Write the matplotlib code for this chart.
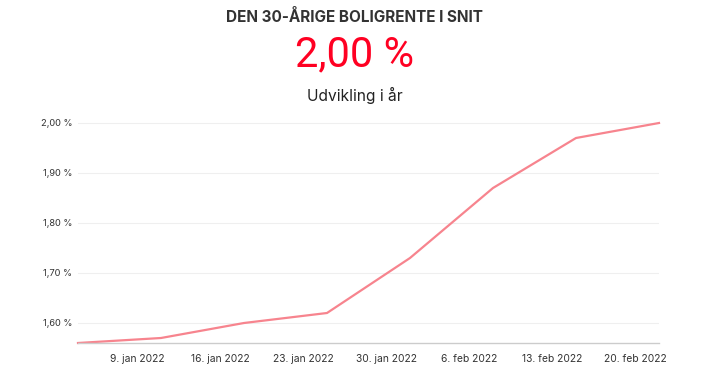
import datetime as dt
import matplotlib
matplotlib.use("Agg")
import matplotlib.pyplot as plt
from matplotlib.ticker import FuncFormatter

plt.rcParams['font.family'] = ['Inter', 'DejaVu Sans']

# data (weekly)
dates = [dt.date(2022, 1, 4), dt.date(2022, 1, 11), dt.date(2022, 1, 18), dt.date(2022, 1, 25),
         dt.date(2022, 2, 1), dt.date(2022, 2, 8), dt.date(2022, 2, 15), dt.date(2022, 2, 22)]
rente = [1.56, 1.57, 1.60, 1.62, 1.73, 1.87, 1.97, 2.00]

tick_dates = [dt.date(2022, 1, 9), dt.date(2022, 1, 16), dt.date(2022, 1, 23), dt.date(2022, 1, 30),
              dt.date(2022, 2, 6), dt.date(2022, 2, 13), dt.date(2022, 2, 20)]
tick_labels = ["9. jan 2022", "16. jan 2022", "23. jan 2022", "30. jan 2022",
               "6. feb 2022", "13. feb 2022", "20. feb 2022"]
yticks = [1.60, 1.70, 1.80, 1.90, 2.00]

fig = plt.figure(figsize=(7.09, 3.83), dpi=100)
ax = fig.add_axes([78/709, 1-343/383, (659-78)/709, (343-122)/383])

ax.plot(dates, rente, color='#f7848e', lw=1.6, clip_on=False)
ax.set_xlim(dates[0], dates[-1])
ax.set_ylim(1.56, 2.002)

ax.set_xticks(tick_dates)
ax.set_xticklabels(tick_labels)
ax.set_yticks(yticks)
ax.yaxis.set_major_formatter(FuncFormatter(lambda v, p: f"{v:.2f} %".replace('.', ',')))
ax.tick_params(axis='both', length=0, colors='#333333')
ax.tick_params(axis='x', labelsize=7.4, pad=8)
ax.tick_params(axis='y', labelsize=6.7, pad=4)

ax.grid(axis='y', color='#efefef', lw=0.8)
ax.set_axisbelow(True)
for s in ['top', 'right', 'left']:
    ax.spines[s].set_visible(False)
ax.spines['bottom'].set_color('#cccccc')
ax.spines['bottom'].set_linewidth(1)

fig.text(0.5, 1-17/383, "DEN 30-ÅRIGE BOLIGRENTE I SNIT", ha='center', va='center',
         fontsize=11, fontweight='bold', color='#333333')
fig.text(0.5, 1-55/383, "2,00 %", ha='center', va='center', family='Roboto',
         fontsize=30, fontweight='normal', color='#ff0022')
fig.text(0.5, 1-95/383, "Udvikling i år", ha='center', va='center',
         fontsize=11.2, color='#222222')

fig.savefig("out.png", dpi=100)
